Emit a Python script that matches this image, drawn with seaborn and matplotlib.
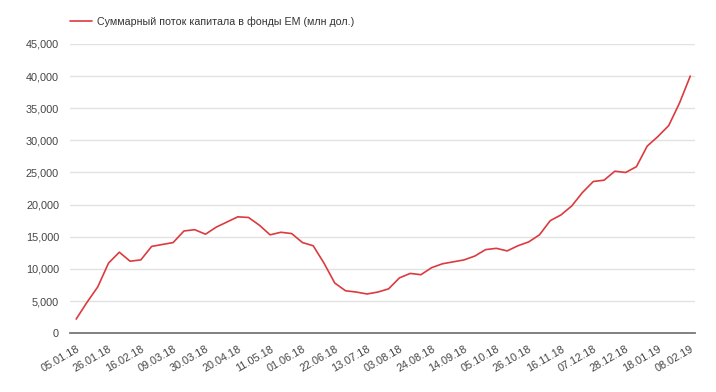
import matplotlib
matplotlib.use("Agg")
import matplotlib.pyplot as plt
import pandas as pd
import seaborn as sns

# weekly cumulative flow into EM funds, mln USD
dates = pd.date_range("2018-01-05", periods=58, freq="7D")
flow = [
    2200, 4800, 7200, 10900, 12600, 11200, 11400, 13500, 13800, 14100,
    15900, 16100, 15400, 16500, 17300, 18100, 18000, 16800, 15300, 15700,
    15500, 14100, 13600, 10900, 7800, 6600, 6400, 6100, 6400, 6900,
    8600, 9300, 9100, 10200, 10800, 11100, 11400, 12000, 13000, 13200,
    12800, 13600, 14200, 15300, 17500, 18400, 19800, 21900, 23600, 23800,
    25200, 25000, 25900, 29100, 30600, 32300, 35800, 40000,
]
series_name = "Суммарный поток капитала в фонды EM (млн дол.)"
yticks = list(range(0, 45001, 5000))

df = pd.DataFrame({"idx": range(len(flow)), "date": dates, "flow": flow})

sns.set_theme(style="white")
plt.rcParams["font.family"] = ["Liberation Sans", "DejaVu Sans"]

fig = plt.figure(figsize=(7.16, 3.92), dpi=100)
ax = fig.add_axes([0.098, 0.150, 0.873, 0.738])

sns.lineplot(data=df, x="idx", y="flow", color="#dc3a3f", linewidth=1.2,
             label=series_name, ax=ax)

ax.set_ylim(0, 45000)
ax.set_xlim(-0.56, 57.46)
ax.set_yticks(yticks)
ax.set_yticklabels([f"{v:,}" for v in yticks], fontsize=7.8, color="#444444")
ax.yaxis.grid(True, color="#e2e2e2", linewidth=1)
ax.set_axisbelow(True)

tick_pos = df["idx"].iloc[::3]
ax.set_xticks(tick_pos)
ax.set_xticklabels(df["date"].iloc[::3].dt.strftime("%d.%m.%y"), rotation=30,
                   ha="right", rotation_mode="anchor", fontsize=7.8, color="#444444")
ax.tick_params(axis="y", length=0, pad=8)
ax.tick_params(axis="x", length=0, pad=8)

for side in ["top", "right", "left"]:
    ax.spines[side].set_visible(False)
ax.spines["bottom"].set_color("#777777")
ax.spines["bottom"].set_linewidth(1.3)

ax.set_xlabel("")
ax.set_ylabel("")

leg = ax.legend(loc="lower left", bbox_to_anchor=(0.0, 1.06), frameon=False,
                fontsize=7.7, handlelength=2.0, handletextpad=0.47,
                borderaxespad=0, borderpad=0)
for t in leg.get_texts():
    t.set_color("#333333")

fig.savefig("out.png", dpi=100)
